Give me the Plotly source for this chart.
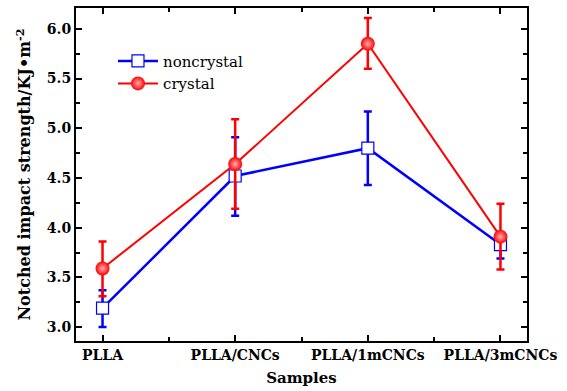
import plotly.graph_objects as go

categories = ["PLLA", "PLLA/CNCs", "PLLA/1mCNCs", "PLLA/3mCNCs"]
noncrystal = [3.19, 4.52, 4.80, 3.83]
noncrystal_up = [3.37, 4.91, 5.17, 3.95]
noncrystal_lo = [3.00, 4.12, 4.43, 3.69]
crystal = [3.59, 4.64, 5.85, 3.91]
crystal_up = [3.86, 5.09, 6.11, 4.24]
crystal_lo = [3.31, 4.19, 5.60, 3.58]
yticks = [3.0, 3.5, 4.0, 4.5, 5.0, 5.5, 6.0]

x = list(range(len(categories)))

def errs(v, up, lo):
    return [u - a for a, u in zip(v, up)], [a - l for a, l in zip(v, lo)]

nu, nl = errs(noncrystal, noncrystal_up, noncrystal_lo)
cu, cl = errs(crystal, crystal_up, crystal_lo)

FAM = "DejaVu Serif"

fig = go.Figure()
fig.add_trace(go.Scatter(
    x=x, y=noncrystal, name="noncrystal", mode="lines+markers",
    line=dict(color="#0000ff", width=2.5),
    marker=dict(symbol="square", size=12, color="white", line=dict(color="#0000ff", width=1.2)),
    error_y=dict(type="data", symmetric=False, array=nu, arrayminus=nl,
                 color="#0000ff", thickness=2.5, width=4),
))
fig.add_trace(go.Scatter(
    x=x, y=crystal, name="crystal", mode="lines+markers",
    line=dict(color="#ff0000", width=2),
    marker=dict(symbol="circle", size=14, color="#ff0000",
                gradient=dict(type="radial", color="#ffb0b0"), line=dict(width=0)),
    error_y=dict(type="data", symmetric=False, array=cu, arrayminus=cl,
                 color="#ff0000", thickness=2.5, width=4),
))

fig.update_layout(
    width=567, height=391,
    margin=dict(l=76, r=40, t=8, b=50),
    paper_bgcolor="white", plot_bgcolor="white",
    font=dict(family=FAM, size=15, color="black"),
    showlegend=True,
    legend=dict(x=0.082, y=0.89, xanchor="left", yanchor="top",
                bgcolor="rgba(0,0,0,0)", borderwidth=0,
                font=dict(family=FAM, size=15, color="black"),
                itemwidth=40, tracegroupgap=0),
)
fig.update_xaxes(
    range=[-0.2, 3.2], tickvals=x, ticktext=categories, tickangle=0, automargin=False,
    tickfont=dict(family=FAM, size=14, color="black", weight="bold"),
    showgrid=False, zeroline=False,
    showline=True, linecolor="black", linewidth=2, mirror="ticks",
    ticks="inside", ticklen=6, tickwidth=2, tickcolor="black",
    minor=dict(dtick=0.5, tick0=0, ticks="inside", ticklen=4, tickwidth=2, tickcolor="black", showgrid=False),
    title=dict(text="Samples", font=dict(family=FAM, size=15, weight="bold"), standoff=11),
)
fig.update_yaxes(
    range=[2.86, 6.21], tickvals=yticks, automargin=False,
    ticktext=[f"{v:.1f}" for v in yticks],
    tickfont=dict(family=FAM, size=14, color="black", weight="bold"),
    showgrid=False, zeroline=False,
    showline=True, linecolor="black", linewidth=2, mirror="ticks",
    ticks="inside", ticklen=6, tickwidth=2, tickcolor="black",
    minor=dict(dtick=0.25, tick0=0, ticks="inside", ticklen=4, tickwidth=2, tickcolor="black", showgrid=False),
    title=dict(text="Notched impact strength/KJ•m<sup>-2</sup>",
               font=dict(family=FAM, size=16, weight="bold"), standoff=12),
)
fig.write_html("out.html")
